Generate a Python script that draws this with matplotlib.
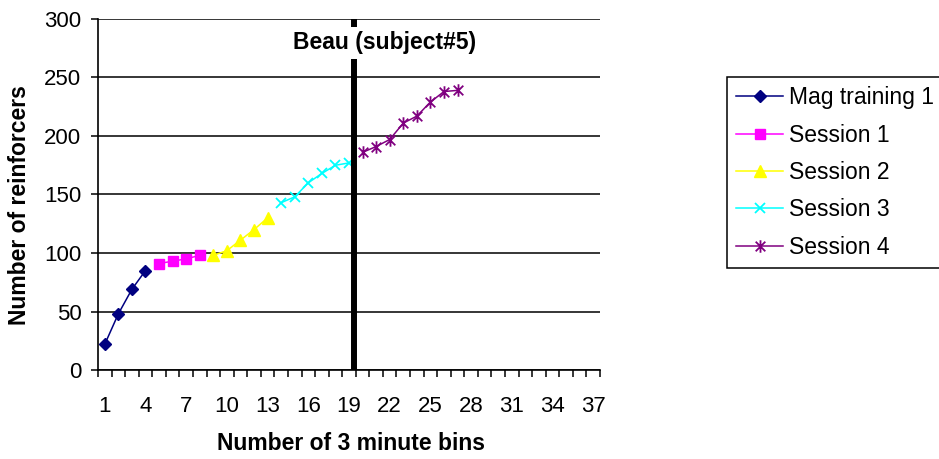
import matplotlib
matplotlib.use("Agg")
import matplotlib.pyplot as plt
from matplotlib.path import Path
from matplotlib.ticker import FixedLocator, NullFormatter

plt.rcParams['font.family'] = ['Liberation Sans', 'DejaVu Sans']

# ---- data ----
mag_x = [1, 2, 3, 4]
mag_y = [22, 48, 69, 85]
s1_x = [5, 6, 7, 8]
s1_y = [91, 93, 95, 98]
s2_x = [9, 10, 11, 12, 13]
s2_y = [98, 102, 111, 120, 130]
s3_x = [14, 15, 16, 17, 18, 19]
s3_y = [143, 148, 160, 168, 175, 177]
s4_x = [20, 21, 22, 23, 24, 25, 26, 27]
s4_y = [186, 191, 197, 211, 217, 229, 238, 239]

n_bins = 37
xtick_labels = [str(v) for v in range(1, 38, 3)]
ytick_values = [0, 50, 100, 150, 200, 250, 300]
divider_after_bin = 19

series_labels = ["Mag training 1", "Session 1", "Session 2", "Session 3", "Session 4"]

# asterisk marker (x plus vertical bar)
ast = Path([(-1, -1), (1, 1), (-1, 1), (1, -1), (0, -1.3), (0, 1.3)],
           [Path.MOVETO, Path.LINETO, Path.MOVETO, Path.LINETO, Path.MOVETO, Path.LINETO])

fig = plt.figure(figsize=(9.39, 4.59), dpi=100)
ax = fig.add_axes([98/939, 1-370/459, (600-98)/939, (370-19)/459])

lw = 1.1
ax.plot(mag_x, mag_y, color='#000080', marker='D', markersize=6.5, lw=lw, label=series_labels[0], zorder=3)
ax.plot(s1_x, s1_y, color='#FF00FF', marker='s', markersize=7.5, lw=lw, label=series_labels[1], zorder=3)
ax.plot(s2_x, s2_y, color='#FFFF00', marker='^', markersize=9, lw=lw, label=series_labels[2], zorder=3)
ax.plot(s3_x, s3_y, color='#00FFFF', marker='x', markersize=7, markeredgewidth=1.3, lw=lw, label=series_labels[3], zorder=3)
ax.plot(s4_x, s4_y, color='#800080', marker=ast, markersize=9, markeredgewidth=1.3, lw=lw, label=series_labels[4], zorder=3)

# thick divider
ax.axvline(divider_after_bin + 0.4, color='black', lw=4.3, zorder=4)

ax.set_xlim(0.5, n_bins + 0.5)
ax.set_ylim(0, 300)

# grid
ax.set_yticks(ytick_values)
ax.yaxis.grid(True, color='black', lw=1.1)
ax.set_axisbelow(True)

# x ticks: marks at boundaries, labels at categories
ax.xaxis.set_major_locator(FixedLocator([i + 0.5 for i in range(0, n_bins + 1)]))
ax.xaxis.set_major_formatter(NullFormatter())
ax.xaxis.set_minor_locator(FixedLocator(list(range(1, n_bins + 1, 3))))
ax.set_xticklabels(xtick_labels, minor=True)
ax.tick_params(axis='x', which='major', direction='out', length=5, width=1.1, color='black')
ax.tick_params(axis='x', which='minor', length=0, pad=19, labelsize=16)
ax.tick_params(axis='y', direction='out', length=5, width=1.1, pad=7, labelsize=16)

for s in ['top', 'right']:
    ax.spines[s].set_visible(False)
for s in ['left', 'bottom']:
    ax.spines[s].set_color('black')
    ax.spines[s].set_linewidth(1.2)

fig.text(385/939, 1-43/459, "Beau (subject#5)", ha='center', va='center', fontsize=16.5,
         fontweight='bold', bbox=dict(facecolor='white', edgecolor='none', boxstyle='square,pad=0.2'),
         zorder=10)

fig.text(351/939, 1-443/459, "Number of 3 minute bins", ha='center', va='center',
         fontsize=16.5, fontweight='bold')
fig.text(20/939, 1-205/459, "Number of reinforcers", ha='center', va='center', rotation=90,
         fontsize=16.5, fontweight='bold')

leg = fig.legend(loc='upper left', bbox_to_anchor=(727/939, 1-77/459), borderaxespad=0,
                 fontsize=16.5, frameon=True, fancybox=False, framealpha=1, edgecolor='black',
                 handlelength=2.05, handletextpad=0.25, labelspacing=0.63, borderpad=0.4)
leg.get_frame().set_linewidth(1.1)

fig.savefig("out.png", dpi=100)
